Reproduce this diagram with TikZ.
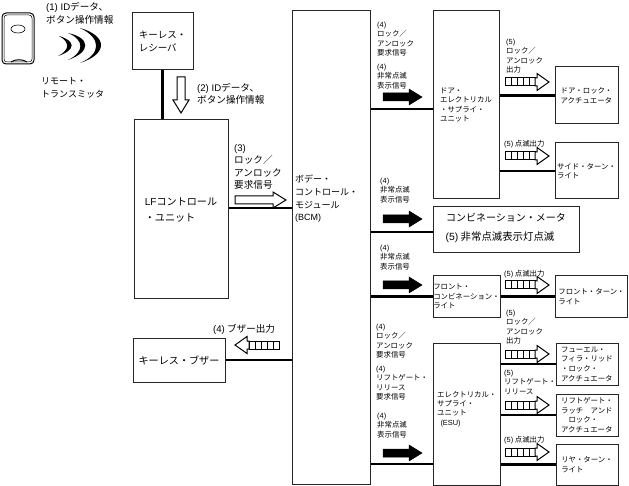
\documentclass[tikz,border=0pt]{standalone}
\usepackage{fontspec}
\setmainfont{Noto Sans CJK JP}
\newfontfamily\lat{Liberation Sans}
\usetikzlibrary{positioning, calc}

\begin{document}
\begin{tikzpicture}[
            x=1pt, y=-1pt,
            unit/.style={rectangle, draw=black!85, fill=white, line width=1pt, inner sep=0pt, align=left, font=\fontsize{9.5}{13}\selectfont},
            wide/.style={unit, font=\fontsize{10.1}{16}\selectfont},
            small/.style={rectangle, draw=black!85, fill=white, line width=1pt, inner sep=0pt, align=left, font=\fontsize{7.4}{9.6}\selectfont},
            big/.style={inner sep=0pt, anchor=north west, align=left, font=\fontsize{9.6}{12.6}\selectfont},
            note/.style={inner sep=0pt, anchor=north west, align=left, font=\fontsize{7.4}{9.4}\selectfont},
            bus/.style={line width=2.5pt, black},
            hollow/.style={draw=black, fill=white, line width=1pt},
            solid/.style={draw=black, fill=black, line width=0.5pt},
            blockarrow/.pic={
                \path[pic actions] (0,-4) -- (#1-13,-4) -- (#1-13,-8) -- (#1,0) -- (#1-13,8) -- (#1-13,4) -- (0,4) -- cycle;
            },
            pulsearrow/.pic={
                \foreach \i in {0,...,4} {
                    \draw[line width=1pt, fill=white] (\i*6,-4) rectangle ++(6,8);
                }
                \draw[line width=1pt, fill=white] (30,-4) -- (32,-4) -- (32,-8.5) -- (44,0) -- (32,8.5) -- (32,4) -- (30,4) -- cycle;
            }
        ]
            \useasboundingbox (0,0) rectangle (629,486);

            % --- left column ---
            \node[unit, minimum width=61, minimum height=57] (receiver) at (162.5,41.5) {キーレス・\\レシーバ};
            \node[wide, minimum width=94, minimum height=179] (lfunit) at (181,209.5) {{\lat LF}コントロール\\・ユニット};
            \node[wide, minimum width=92, minimum height=44] (buzzer) at (179,360) {キーレス・ブザー};

            % --- centre column ---
            \node[unit, minimum width=78, minimum height=473] (bcm) at (331,247.5) {};
            \node[inner sep=0pt, anchor=north west, align=left, font=\fontsize{9}{12.6}\selectfont] (bcmtext) at (295,175) {ボデー・\\コントロール・\\モジュール\\{\lat (BCM)}};

            \node[small, minimum width=66, minimum height=188] (door) at (466,105) {ドア・\\エレクトリカル\\・サプライ・\\ユニット};
            \node[unit, minimum width=146, minimum height=46] (meter) at (506,230) {};
            \node[inner sep=0pt, font=\fontsize{10}{13}\selectfont] (metertitle) at (506,218) {コンビネーション・メータ};
            \node[inner sep=0pt, font=\fontsize{10.4}{13}\selectfont] (meterblink) at (500,237) {{\lat (5)} 非常点滅表示灯点滅};
            \node[small, minimum width=67, minimum height=41] (frontcombi) at (466.5,296.5) {フロント・\\コンビネーション・\\ライト};
            \node[small, minimum width=67, minimum height=142] (esu) at (466.5,414) {};
            \node[note, anchor=north west] (esutext) at (437,391) {エレクトリカル・\\サプライ・\\ユニット\\\ \ {\lat (ESU)}};

            % --- right column ---
            \node[small, minimum width=63, minimum height=57] (doorlock) at (586.5,95.5) {ドア・ロック・\\アクチュエータ};
            \node[small, minimum width=63, minimum height=56] (sideturn) at (586.5,171) {サイド・ターン・\\ライト};
            \node[small, minimum width=72, minimum height=41] (frontturn) at (591.5,296.5) {フロント・ターン・\\ライト};
            \node[small, minimum width=62, minimum height=42] (fuel) at (587,364) {フューエル・\\フィラ・リッド\\・ロック・\\アクチュエータ};
            \node[small, minimum width=62, minimum height=42] (liftgate) at (587,415) {リフトゲート・\\ラッチ　アンド\\　ロック・\\アクチュエータ};
            \node[small, minimum width=62, minimum height=41] (rearturn) at (587,464.5) {リヤ・ターン・\\ライト};

            % --- connectors ---
            \draw[bus] (receiver.south) -- (receiver.south |- lfunit.north);
            \draw[bus] (lfunit.east |- 0,208) -- (bcm.west |- 0,208);
            \draw[bus] (buzzer.east) -- (bcm.west |- buzzer.east);
            \draw[bus] (bcm.east |- 0,109) -- (door.west |- 0,109);
            \draw[bus] (bcm.east |- 0,232) -- (meter.west |- 0,232);
            \draw[bus] (bcm.east |- frontcombi.west) -- (frontcombi.west);
            \draw[bus] (bcm.east |- 0,464) -- (esu.west |- 0,464);
            \draw[bus] (door.east |- doorlock.west) -- (doorlock.west);
            \draw[bus] (door.east |- sideturn.west) -- (sideturn.west);
            \draw[bus] (frontcombi.east) -- (frontturn.west);
            \draw[bus] (esu.east |- fuel.west) -- (fuel.west);
            \draw[bus] (esu.east |- liftgate.west) -- (liftgate.west);
            \draw[bus] (esu.east |- rearturn.west) -- (rearturn.west);

            % --- signal arrows ---
            \pic[hollow, rotate=-90] at (181,77) {blockarrow=36};
            \pic[hollow] at (235,200) {blockarrow=51};
            \pic[solid] at (383,97) {blockarrow=39};
            \pic[solid] at (383,219) {blockarrow=39};
            \pic[solid] at (383,285) {blockarrow=39};
            \pic[solid] at (383,453) {blockarrow=39};
            \pic at (505,82) {pulsearrow};
            \pic at (505,156) {pulsearrow};
            \pic at (505,285) {pulsearrow};
            \pic at (505,354) {pulsearrow};
            \pic at (505,405) {pulsearrow};
            \pic at (505,452) {pulsearrow};
            \pic[xscale=-1] at (279,345) {pulsearrow};

            % --- remote transmitter ---
            \draw[line width=1pt, rounded corners=4pt] (2,13) rectangle (34,64);
            \draw[line width=0.5pt, rounded corners=3pt] (4,15) rectangle (32,62);
            \draw[line width=0.6pt] (18,29) ellipse (7 and 4);
            \draw[line width=1pt] (11,62) .. controls (15,59) and (23,59) .. (27,62);
            \fill (59,36) .. controls (76,41) and (76,50) .. (58,56) .. controls (70,50) and (70,42) .. cycle;
            \fill (68,33) .. controls (91,38) and (91,52) .. (68,60) .. controls (84.5,52) and (84.5,40) .. cycle;
            \fill (80,28) .. controls (108,36) and (108,54) .. (80,63) .. controls (101.5,54) and (101.5,38) .. cycle;

            % --- labels ---
            \node[big, font=\fontsize{9.6}{13}\selectfont] (step1) at (46,2) {{\lat (1) ID}データ、\\ボタン操作情報};
            \node[big, font=\fontsize{9}{13}\selectfont] (remote) at (41,77) {リモート・\\トランスミッタ};
            \node[big] (step2) at (197,83) {{\lat (2) ID}データ、\\ボタン操作情報};
            \node[big] (step3) at (234,144) {{\lat (3)}\\ロック／\\アンロック\\要求信号};
            \node[big] (step4buzzer) at (213,324) {{\lat (4)} ブザー出力};

            \node[note] (req1) at (377,22) {{\lat (4)}\\ロック／\\アンロック\\要求信号};
            \node[note] (haz1) at (377,64) {{\lat (4)}\\非常点滅\\表示信号};
            \node[note] (haz2) at (380,178) {{\lat (4)}\\非常点滅\\表示信号};
            \node[note] (haz3) at (380,245) {{\lat (4)}\\非常点滅\\表示信号};
            \node[note] (req2) at (376,324) {{\lat (4)}\\ロック／\\アンロック\\要求信号};
            \node[note] (lift1) at (376,366) {{\lat (4)}\\リフトゲート・\\リリース\\要求信号};
            \node[note] (haz4) at (377,413) {{\lat (4)}\\非常点滅\\表示信号};

            \node[note] (out1) at (506,39) {{\lat (5)}\\ロック／\\アンロック\\出力};
            \node[note] (blink1) at (504,140) {{\lat (5)} 点滅出力};
            \node[note] (blink2) at (504,270) {{\lat (5)} 点滅出力};
            \node[note] (out2) at (506,310) {{\lat (5)}\\ロック／\\アンロック\\出力};
            \node[note] (lift2) at (504,370) {{\lat (5)}\\リフトゲート・\\リリース};
            \node[note] (blink3) at (504,436) {{\lat (5)} 点滅出力};
        \end{tikzpicture}
\end{document}
